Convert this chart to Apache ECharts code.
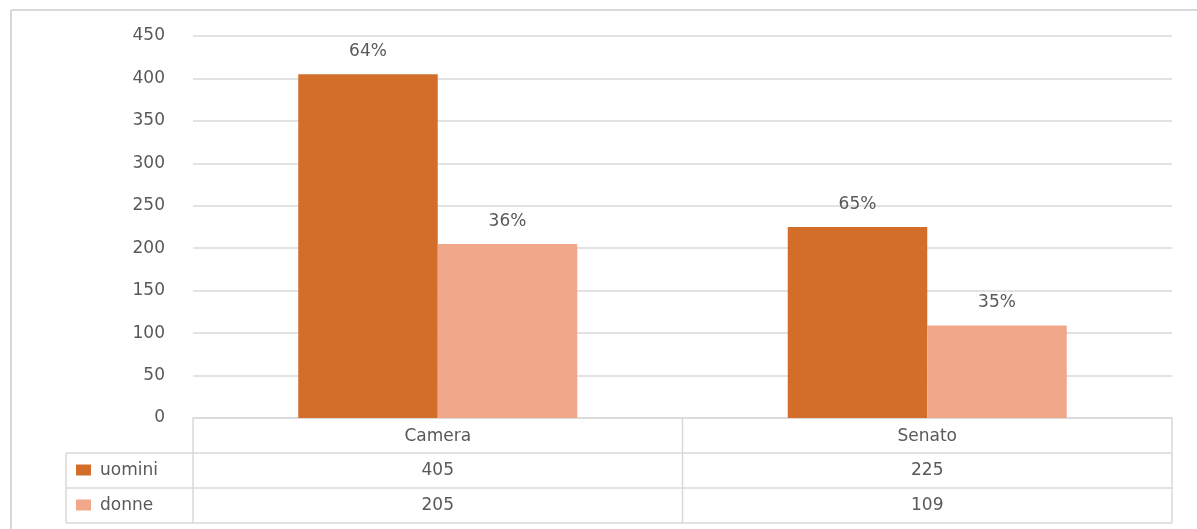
<!DOCTYPE html>
<html>
<head>
<meta charset="utf-8">
<script src="https://cdn.jsdelivr.net/npm/echarts@6/dist/echarts.min.js"></script>
<style>
html,body{margin:0;padding:0;background:#fff;}
#c{width:1197px;height:529px;}
</style>
</head>
<body>
<div id="c"></div>
<script>
const categories = ['Camera', 'Senato'];
const seriesNames = ['uomini', 'donne'];
const uomini = [405, 225];
const donne = [205, 109];
const uominiPct = ['64%', '65%'];
const donnePct = ['36%', '35%'];
const colors = ['#D26E2A', '#F0A78A'];

const FONT = 'DejaVu Sans';
const FS = 17;
const TXT = '#595959';
const LINE = '#D9D9D9';

const chart = echarts.init(document.getElementById('c'), null, {renderer: 'canvas'});

const option = {
  animation: false,
  backgroundColor: '#fff',
  grid: {left: 193, right: 25, top: 36, bottom: 111, containLabel: false},
  xAxis: {
    type: 'category',
    data: categories,
    axisLine: {show: true, lineStyle: {color: LINE, width: 1.5}},
    axisTick: {show: false},
    axisLabel: {show: true, margin: 10, color: TXT, fontFamily: FONT, fontSize: FS}
  },
  yAxis: {
    type: 'value',
    min: 0, max: 450, interval: 50,
    axisLine: {show: false},
    axisTick: {show: false},
    axisLabel: {margin: 28, color: TXT, fontFamily: FONT, fontSize: FS},
    splitLine: {lineStyle: {color: LINE, width: 1.5}}
  },
  series: [
    {
      name: seriesNames[0], type: 'bar', data: uomini,
      barGap: '0%', barCategoryGap: '43%',
      itemStyle: {color: colors[0]},
      label: {show: true, position: 'top', distance: 14, color: TXT, fontFamily: FONT, fontSize: FS,
        formatter: p => uominiPct[p.dataIndex]}
    },
    {
      name: seriesNames[1], type: 'bar', data: donne,
      barGap: '0%', barCategoryGap: '43%',
      itemStyle: {color: colors[1]},
      label: {show: true, position: 'top', distance: 14, color: TXT, fontFamily: FONT, fontSize: FS,
        formatter: p => donnePct[p.dataIndex]}
    }
  ]
};
chart.setOption(option);

// Build data table under the axis
const gLeft = 193, gRight = 1197 - 25;
const y0 = chart.convertToPixel({yAxisIndex: 0}, 0);
const c0 = chart.convertToPixel({xAxisIndex: 0}, 0);
const c1 = chart.convertToPixel({xAxisIndex: 0}, 1);
const mid = (c0 + c1) / 2;
const colCenters = [c0, c1];
const legendLeft = 66;
const rowH = 35;
const rowsTop = [y0, y0 + rowH, y0 + 2 * rowH, y0 + 3 * rowH];
const rows = [uomini, donne];

const g = [];
const ls = {stroke: LINE, lineWidth: 1.5};
// outer chart border (top and left edges visible)
g.push({type: 'line', shape: {x1: 11, y1: 10, x2: 1197, y2: 10}, style: {stroke: '#D9D9D9', lineWidth: 2}});
g.push({type: 'line', shape: {x1: 11, y1: 10, x2: 11, y2: 529}, style: {stroke: '#D9D9D9', lineWidth: 2}});
// horizontal lines
for (let i = 1; i < 4; i++) {
  g.push({type: 'line', shape: {x1: legendLeft, y1: rowsTop[i], x2: gRight, y2: rowsTop[i]}, style: ls});
}
// vertical lines
g.push({type: 'line', shape: {x1: gLeft, y1: rowsTop[0], x2: gLeft, y2: rowsTop[3]}, style: ls});
g.push({type: 'line', shape: {x1: mid, y1: rowsTop[0], x2: mid, y2: rowsTop[3]}, style: ls});
g.push({type: 'line', shape: {x1: gRight, y1: rowsTop[0], x2: gRight, y2: rowsTop[3]}, style: ls});
g.push({type: 'line', shape: {x1: legendLeft, y1: rowsTop[1], x2: legendLeft, y2: rowsTop[3]}, style: ls});

for (let r = 0; r < 2; r++) {
  const cy = rowsTop[r + 1] + rowH / 2;
  g.push({type: 'rect', shape: {x: 76, y: cy - 6, width: 15, height: 11}, style: {fill: colors[r]}});
  g.push({type: 'text', x: 100, y: cy, style: {text: seriesNames[r], fill: TXT, font: FS + 'px "' + FONT + '"', textAlign: 'left', textVerticalAlign: 'middle'}});
  for (let c = 0; c < 2; c++) {
    g.push({type: 'text', x: colCenters[c], y: cy, style: {text: String(rows[r][c]), fill: TXT, font: FS + 'px "' + FONT + '"', textAlign: 'center', textVerticalAlign: 'middle'}});
  }
}
chart.setOption({graphic: {elements: g}});
</script>
</body>
</html>
